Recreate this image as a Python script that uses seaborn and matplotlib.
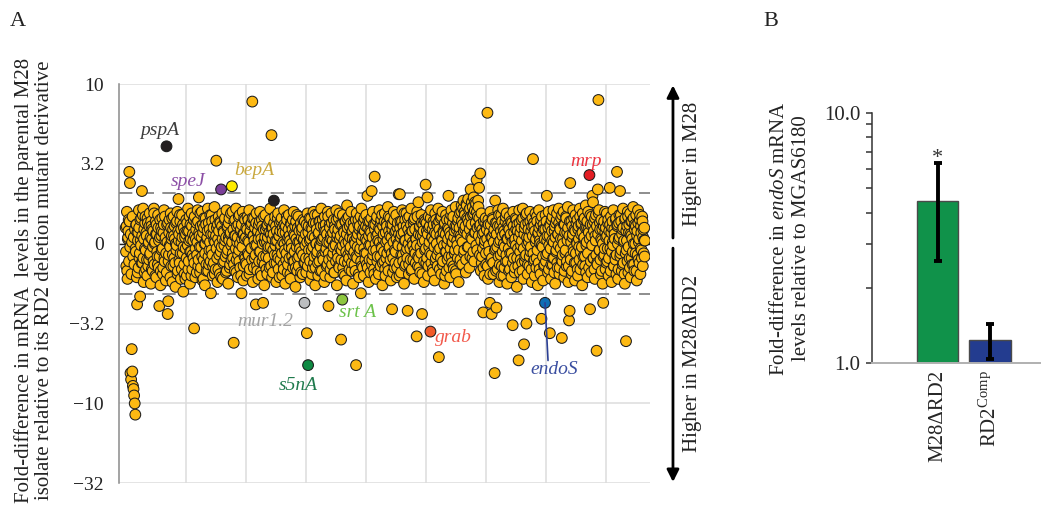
import numpy as np
import pandas as pd
import matplotlib
matplotlib.use("Agg")
import matplotlib.pyplot as plt
from matplotlib.ticker import NullFormatter, FixedLocator
import seaborn as sns

# ---------------- Panel A data: log10 fold-change (M28 / M28dRD2), in hundredths.
# Genes in chromosome order; each block covers 200 genes: "a" lists = even genes, "b" lists = odd genes.
seg0a = [10, -14, 20, -22, 4, 15, 45, 38, -81, -85, -66, -80, -89, -91, -95, -100, -107, -5, 12, -38,
         -18, 7, 21, -9, -33, 2, 16, 33, -12, 22, -24, 9, -3, 17, -16, 5, -20, 13, 0, -10,
         19, -6, -25, 11, 3, -17, 8, 22, -13, 1, 14, -21, 6, -8, 18, -15, -39, 4, -26, 10,
         -4, 16, -19, 7, 21, -11, 2, -23, 61, 12, -44, -36, -7, 15, -2, 19, -14, 5, -24, 9,
         17, -9, 3, -27, 13, -1, 20, -17, 28, 6, -12, 14, -22, 1, 18, -6, -30, 10, -19, 4]
seg0b = [-5, 11, -17, 3, 8, -11, 14, -2, 6, -19, 1, 17, -8, 4, -13, 9, -3, 12, -21, 7,
         2, -15, 10, -6, 15, -1, -12, 5, 18, -9, 3, -18, 13, -4, 7, -10, 16, -14, 1, 11,
         -7, 4, 14, -16, 9, -2, -11, 19, 0, -20, 6, 12, -5, -13, 10, 2, -8, 15, -17, 5,
         8, -3, -15, 12, -9, 17, 4, -6, -18, 1, 13, -11, 7, -1, -21, 10, 3, 16, -7, -14,
         5, 11, -12, 0, -4, 14, -19, 8, 2, -10, 18, -6, 9, -16, 4, 12, -2, -13, 7, -22]
seg1a = [-3, 15, -20, 8, 22, -11, 2, -25, 12, -5, 19, -16, 6, -9, -53, 17, -21, 3, 13, -7,
         21, -14, 29, 5, -18, 11, -2, 20, -23, 7, -10, 16, -26, 0, 12, -17, 4, 22, -8, -13,
         9, 18, -31, -4, 14, -20, 6, -12, 23, 1, -16, 52, 10, -24, 3, 17, -7, -19, 13, 34,
         -2, 19, -22, 8, -11, 15, 2, -18, 21, -6, 11, -25, 4, 16, -13, 7, -1, 36, 20, -9,
         -62, 14, -17, 5, 22, -10, 1, -21, 12, -4, 18, -15, 9, -31, 3, 20, -23, 6, -8, 15]
seg1b = [6, -9, 13, -1, -16, 8, 17, -5, 3, -20, 11, -7, 2, 15, -12, 5, -3, 9, -18, 1,
         14, -10, 7, -2, 19, -15, 4, -8, 12, -22, 10, 0, -6, 16, -13, 3, 8, -17, 13, -4,
         1, -11, 6, 18, -7, -14, 10, 2, -19, 15, 5, -3, -9, 12, -16, 8, 0, 14, -5, -21,
         11, 3, -12, 7, -1, 16, -8, 4, -17, 10, -4, 13, 2, -15, 6, 19, -10, 1, -6, 9,
         -13, 5, 15, -3, -18, 11, 4, -7, 17, -11, 0, 8, -20, 12, -2, 6, -14, 16, 3, -9]
seg2a = [-12, 10, -20, 17, 2, -7, 21, -16, 8, -3, 13, 89, -24, 5, 16, -9, -1, -38, 19, -14,
         7, -22, 12, -5, 20, -18, 3, 15, -11, -37, 9, -26, 1, 18, -8, 11, -19, 4, -2, 14,
         -15, 22, 6, 68, -21, 10, -4, 27, -12, 17, 2, -24, 8, -7, 19, -16, 5, 13, -10, -1,
         16, -20, 7, -13, 21, 0, -25, 11, -6, 15, -18, 4, 18, -9, 2, -22, 12, -3, 9, -15,
         20, -11, 5, -27, 14, -2, -17, 10, 17, -8, 1, -21, 13, -5, 8, -19, 15, 3, -37, -12]
seg2b = [4, -13, 9, -6, 15, 1, -19, 7, 12, -3, -10, 16, 5, -15, 2, 10, -7, 13, -1, -17,
         8, 3, -11, 14, -5, 6, -20, 11, 0, -8, 17, -13, 4, 9, -16, 1, 12, -4, -9, 7,
         15, -2, -14, 10, 3, -18, 6, 13, -7, -1, 11, -12, 2, 16, -9, 5, -21, 8, -3, 14,
         -6, 10, 1, -16, 12, -4, 7, -10, 17, 2, -13, 9, -2, 5, -19, 13, 0, -8, 15, -11,
         6, -5, 11, -15, 3, 18, -9, 1, -14, 8, -3, 12, -18, 4, 10, -7, 2, -12, 14, -1]
seg3a = [6, -18, -56, 19, -76, 11, -9, 2, -23, 16, -4, 9, -15, 20, -12, 4, -26, 13, 0, -7,
         18, -20, 7, -11, 14, -2, 22, -17, 3, -8, 11, -24, 17, -5, 8, -14, 1, 20, -39, -10,
         12, -21, 5, 19, -13, 2, -6, 15, -18, 9, -1, 21, -26, 6, -9, 16, -15, 3, 12, -60,
         -4, -35, 18, -19, 7, -11, 14, 0, -23, 24, 10, -7, 17, -16, 4, -2, 20, -12, 8, -25,
         13, -5, 2, -17, -76, 19, -9, 6, 15, -21, 11, -3, -31, 22, -14, 5, 9, -20, 16, -6]
seg3b = [-9, 12, 1, -14, 7, -4, 16, -11, 3, 10, -19, 5, -2, 13, -8, 18, -15, 0, 9, -5,
         -12, 6, 14, -1, -17, 11, 2, -7, 15, -10, 4, 8, -20, 12, -3, 6, -13, 17, -6, 1,
         10, -16, 3, 13, -8, 7, -2, -18, 11, 0, -11, 15, 4, -6, 9, -14, 19, -3, 5, -10,
         12, -1, -15, 8, 2, -20, 14, -5, 6, 16, -12, 1, -9, 11, -4, 13, -17, 7, 3, -7,
         10, -13, 0, 15, -8, 4, -2, 12, -19, 9, -5, 17, -11, 2, 6, -15, 14, -3, 8, -10]
seg4a = [3, 18, -13, 30, 10, -24, -1, 14, -18, 7, 33, -10, 20, -4, -16, 42, 12, -22, 5, 17,
         -8, 2, -19, 21, 9, -14, 15, -3, -26, 11, 6, -11, 19, -20, 1, 13, -6, 23, -17, 8,
         -2, 16, -23, 4, -41, 12, -9, 20, -15, 7, -5, 18, -21, 10, 0, 31, -12, 31, 14, -18,
         6, 21, -7, 11, -25, 2, 15, -13, 19, -3, -42, 9, -19, 17, 4, -10, 22, -16, 8, -1,
         13, -22, 16, -6, 3, -58, 20, -14, 26, -9, 10, -18, 5, 18, -44, 1, 12, -24, 15, -4]
seg4b = [11, -6, 2, -15, 14, 5, -10, 8, -1, 16, -13, 4, -7, 12, -19, 9, 0, -4, 15, -11,
         6, -17, 10, 1, -8, 13, -2, 18, -12, 3, -5, 14, -16, 7, -9, 11, 2, -14, 17, -3,
         5, -10, 12, -6, 9, -18, 1, 15, -4, -12, 8, 3, -15, 13, -1, 6, -20, 10, 4, -7,
         14, -2, -11, 7, 19, -14, 2, -5, 11, -9, 16, 0, -13, 6, -3, 12, -17, 8, 1, -10,
         15, -4, 9, -12, 3, -1, 17, -8, 6, -15, 11, -2, -6, 13, -19, 5, 8, -11, 2, 14]
seg5a = [37, -12, 8, 29, -20, 17, -2, 11, -55, 21, -7, 4, -16, 14, 2, -23, 19, -9, 6, 12,
         -14, 22, -71, 9, -3, 16, -19, 3, 20, -11, 7, -25, 13, -5, 18, -17, 0, 10, 30, -8,
         15, -21, 5, 21, -12, 1, 17, -16, 8, -4, 23, -19, 11, -1, 14, -24, 6, 19, -10, 3,
         24, -13, 12, 27, -6, 20, 9, -18, 25, 16, -2, 28, 13, -15, 22, 34, 4, 26, -9, 18,
         29, -11, 21, 7, 25, 40, -4, 17, 23, 35, 11, 44, -17, 19, -8, 6, -43, 14, -20, 2]
seg5b = [-3, 13, -9, 6, -14, 10, 1, -6, 16, -12, 4, 9, -18, 12, -2, 7, -11, 15, 0, -7,
         11, -4, 14, -16, 5, -9, 17, 2, -13, 8, -1, 12, -20, 6, -5, 15, -10, 3, 9, -15,
         7, -3, 18, -8, 1, 13, -14, 4, -6, 11, -17, 9, 2, -9, 16, -4, 10, -12, 5, 20,
         14, 1, 22, 8, -4, 18, 11, -10, 24, 6, 15, -2, 21, 9, -8, 17, 12, 3, 23, -5,
         19, 7, 26, 13, -1, 20, 10, 27, 5, 16, -7, 12, 2, -12, 9, -3, -15, 7, 0, 13]
seg6a = [16, -13, 9, 82, -22, 12, -5, -37, 20, -10, -44, 4, 15, -19, 7, -81, 27, -3, -40, 13,
         -16, 21, 1, -24, 11, -7, 18, -14, 5, 22, -20, 8, -2, 14, -11, 19, -25, 3, 10, -17,
         17, -6, 6, -21, 13, -51, 20, -9, 2, -15, 16, 9, -27, 12, -3, -73, 21, -18, 7, -1,
         15, -12, 22, -22, -63, 10, -8, 18, -50, 4, -19, 13, 1, -14, 20, -5, 8, -24, 16, 53,
         -11, 11, -20, 19, 3, -9, 14, -26, 7, 21, -16, 0, 12, -47, 17, -2, -23, 9, -13, -37]
seg6b = [-6, 10, 3, -14, 15, -1, 7, -19, 12, 4, -9, 16, -12, 1, 9, -4, 13, -17, 6, -2,
         11, -8, 18, -13, 2, 8, -20, 14, -5, 10, 0, -15, 6, 17, -7, 3, -11, 12, -3, 9,
         -16, 5, 14, -6, 1, -12, 11, 7, -18, 3, -1, 15, -9, 8, -14, 4, 13, -5, -10, 10,
         2, -17, 16, -3, 6, -11, 12, -7, 19, 0, -13, 9, 4, -8, 14, -2, -16, 11, 5, -6,
         13, -10, 8, 1, -15, 17, -4, 6, -12, 10, 2, -19, 15, -1, 7, -8, 12, -14, 3, 9]
seg7a = [18, -7, 30, 5, -18, 20, -1, -56, 11, -22, 15, 2, -13, 21, -9, 8, -25, 13, -4, 19,
         -15, 6, 22, -19, 10, -3, 16, -59, -11, 3, 20, -21, 12, -6, 17, -14, 7, 23, -24, -48,
         -42, 38, -10, 14, -17, 4, 21, -5, 9, -23, 18, -12, 1, 15, -20, 11, -2, 22, -16, 6,
         13, -26, 19, -8, 3, 16, -14, 24, -1, 10, -21, 20, 7, 43, -41, 12, -18, 17, 30, 26,
         -9, 14, -22, 5, 18, -67, -12, 34, 90, 21, -4, 9, -19, 15, 2, -25, -37, 11, -7, 20]
seg7b = [-11, 14, 2, -6, 10, -16, 5, 12, -3, -13, 8, 17, -9, 1, -18, 11, 4, -5, 15, -12,
         6, -1, 13, -15, 9, 3, -10, 18, -7, 0, 12, -17, 7, -4, 16, -11, 2, 10, -14, 5,
         14, -8, 1, -19, 11, 6, -3, 16, -12, 8, -6, 13, 0, -16, 9, 3, -10, 17, -5, 12,
         -2, 7, -13, 15, 4, -8, 10, -18, 1, 14, -6, 9, -15, 3, 18, -11, 5, -1, 12, -9,
         8, -16, 16, 2, -7, 11, -13, 6, 19, -4, 13, -10, 3, -17, 9, 0, -8, 14, -3, 7]
seg8a = [-16, 4, 19, -11, 13, -20, 8, 35, -3, 17, -24, 10, 1, 21, -14, 6, -8, 15, -19, 45,
         12, -22, 3, 18, 33, -6, 14, -17, 9, 22, -12, 2, -25, 16, -61, -4, 11, 20, -18, 7,
         -9, 19, -21, 5, 14, -13, 23, 0, -17, 12, -6, 18, -23, 8, 21, -10, 3, 15, -19, 11,
         -4, 17, -14, 9, 2, -8]
seg8b = [10, -12, 5, -3, 15, -9, 2, 12, -17, 7, -5, 14, -1, -14, 9, 3, -10, 16, -7, 11,
         0, -16, 13, 4, -8, 18, -4, 6, -13, 10, 1, -19, 15, -6, 8, 2, -11, 17, -2, 12,
         -15, 6, 14, -9, 3, -5, 16, -13, 9, 0, 11, -17, 5, -7, 13, 1, -12, 18, -3, 7,
         -9, 14, 4, -6, 10, 2]
GENES_PER_BLOCK = 200

# highlighted genes (gene index)
hl_names = ["pspA", "speJ", "bepA", "mrp", "mur1.2", "srtA", "s5nA", "grab", "endoS", "other_dark"]
hl_index = [136, 318, 354, 1546, 596, 722, 608, 1016, 1398, 494]
hl_colors = ["#231F20", "#7B3F98", "#FFEC00", "#E31E24", "#BCBEC0", "#8DC63F", "#0E8A43",
             "#F15A29", "#0F6DB4", "#231F20"]
label_texts = ["pspA", "speJ", "bepA", "mrp", "mur1.2", "srt A", "s5nA", "grab", "endoS"]
label_colors = ["#3C3C3C", "#8C4FA6", "#C9A83E", "#EC3440", "#A3A3A3", "#6CC24A", "#1F7A4D",
                "#F2594B", "#3A4EA0"]
label_xy = [(114, 0.709), (208, 0.39), (430, 0.458), (1536, 0.517), (464, -0.485),
            (772, -0.431), (576, -0.886), (1092, -0.589), (1428, -0.788)]

fold_cutoff = 2.07
ytick_pos = [1.0, 0.5, 0.0, -0.5, -1.0, -1.5]
ytick_labels = ["10", "3.2", "0", "\u22123.2", "\u221210", "\u221232"]

# ---------------- Panel B data
strains = ["M28\u0394RD2", "RD2$^{\\mathrm{Comp}}$"]
endoS_fold = [4.45, 1.24]
endoS_low = [2.56, 1.04]
endoS_high = [6.33, 1.44]
bar_colors = ["#10924A", "#233C8F"]

# ---------------- style
sns.set_theme(style="white")
plt.rcParams["font.family"] = ["Liberation Serif", "DejaVu Serif"]
plt.rcParams["mathtext.fontset"] = "custom"
plt.rcParams["mathtext.rm"] = "Liberation Serif"
plt.rcParams["mathtext.it"] = "Liberation Serif:italic"

fig = plt.figure(figsize=(10.41, 5.08), dpi=100)
axA = fig.add_axes([0.1146, 0.0486, 0.5098, 0.786])
axB = fig.add_axes([0.8374, 0.2848, 0.1617, 0.4928])

# ---------------- Panel A
blocks = [(seg0a, seg0b), (seg1a, seg1b), (seg2a, seg2b), (seg3a, seg3b), (seg4a, seg4b),
          (seg5a, seg5b), (seg6a, seg6b), (seg7a, seg7b), (seg8a, seg8b)]
genes, logfc = [], []
for k, (a, b) in enumerate(blocks):
    for i, v in enumerate(a):
        genes.append(k * GENES_PER_BLOCK + 2 * i)
        logfc.append(v / 100.0)
    for i, v in enumerate(b):
        genes.append(k * GENES_PER_BLOCK + 2 * i + 1)
        logfc.append(v / 100.0)
df = pd.DataFrame({"gene": genes, "log_fc": logfc}).sort_values("gene").reset_index(drop=True)
df["group"] = "all"
for n, i in zip(hl_names, hl_index):
    df.loc[df["gene"] == i, "group"] = n
pal = {"all": "#FDB913"}
pal.update(dict(zip(hl_names, hl_colors)))

cut = np.log10(fold_cutoff)
axA.axhline(0, color="#222222", lw=1.0, zorder=1)
for c in (cut, -cut):
    axA.axhline(c, color="#7a7a7a", lw=1.2, ls=(0, (8, 5)), zorder=2)

sns.scatterplot(data=df, x="gene", y="log_fc", hue="group", palette=pal, s=60,
                edgecolor="#1c1c1c", linewidth=0.75, legend=False, ax=axA, zorder=3)

axA.set_xlim(-21.4, 1748)
axA.set_ylim(-1.5, 1.0)
axA.set_xticks(range(200, 1800, 200))
axA.set_xticklabels([])
axA.set_yticks(ytick_pos)
axA.set_yticklabels(ytick_labels, fontsize=14)
axA.tick_params(axis="x", length=0)
axA.tick_params(axis="y", length=4, width=1, color="#cfcfcf", pad=7, labelcolor="#222222")
axA.grid(True, color="#dcdcdc", lw=1.1, zorder=0)
axA.set_axisbelow(True)
for sp in ["top", "right", "bottom"]:
    axA.spines[sp].set_visible(False)
axA.spines["left"].set_color("#8a8a8a")
axA.spines["left"].set_linewidth(1.1)
axA.set_xlabel("")
axA.set_ylabel("Fold-difference in mRNA  levels in the parental M28\n"
               "isolate relative to its RD2 deletion mutant derivative",
               fontsize=15, linespacing=1.1, color="#222222")
axA.yaxis.set_label_coords(-0.123, 0.509)

for t, col, (tx, ty) in zip(label_texts, label_colors, label_xy):
    axA.text(tx, ty, t, color=col, fontsize=14, style="italic", ha="center", va="center", zorder=5)
i_endo = hl_index[hl_names.index("endoS")]
y_endo = float(df.loc[df["gene"] == i_endo, "log_fc"].iloc[0])
axA.plot([i_endo, i_endo + 10], [y_endo, -0.731], color="#2B3F94", lw=1.2, zorder=4)

# side arrows
arrow_kw = dict(arrowstyle="-|>", color="black", lw=2, mutation_scale=18, shrinkA=0, shrinkB=0)
axA.annotate("", xy=(1.0433, 0.9967), xytext=(1.0433, 0.6143), xycoords="axes fraction",
             arrowprops=arrow_kw, annotation_clip=False)
axA.annotate("", xy=(1.0433, 0.0033), xytext=(1.0433, 0.589), xycoords="axes fraction",
             arrowprops=arrow_kw, annotation_clip=False)
axA.text(1.081, 0.80, "Higher in M28", transform=axA.transAxes, rotation=90,
         ha="center", va="center", fontsize=15, color="#222222")
axA.text(1.081, 0.299, "Higher in M28\u0394RD2", transform=axA.transAxes, rotation=90,
         ha="center", va="center", fontsize=15, color="#222222")

# ---------------- Panel B
dfb = pd.DataFrame({"strain": strains, "fold": endoS_fold})
sns.barplot(data=dfb, x="strain", y="fold", hue="strain", palette=bar_colors, legend=False,
            saturation=1, width=0.8, edgecolor="#4a4a4a", linewidth=1.0, ax=axB, zorder=2)
axB.set_yscale("log")
axB.set_ylim(1.0, 10.0)
axB.set_xlim(-1.258, 1.96)
fold = np.array(endoS_fold)
axB.errorbar([0, 1], fold, yerr=[fold - np.array(endoS_low), np.array(endoS_high) - fold],
             fmt="none", ecolor="black", elinewidth=2.8, capsize=3, capthick=2.8, zorder=3)
axB.text(0, 6.6, "*", ha="center", va="center", fontsize=16, color="#333333")
axB.yaxis.set_major_locator(FixedLocator([1, 10]))
axB.set_yticklabels(["1.0", "10.0"], fontsize=15)
axB.yaxis.set_minor_locator(FixedLocator([2, 3, 4, 5, 6, 7, 8, 9]))
axB.yaxis.set_minor_formatter(NullFormatter())
axB.tick_params(axis="y", which="both", direction="out", length=4, width=1.1, color="#333333",
                left=True, pad=4)
axB.tick_params(axis="x", length=0, pad=5)
axB.set_xticks([0, 1])
axB.set_xticklabels(strains, rotation=90, fontsize=15, va="top")
for sp in ["top", "right"]:
    axB.spines[sp].set_visible(False)
axB.spines["left"].set_color("#333333")
axB.spines["left"].set_linewidth(1.1)
axB.spines["bottom"].set_color("#b0b0b0")
axB.spines["bottom"].set_linewidth(1.4)
axB.set_xlabel("")
axB.set_ylabel("Fold-difference in $\\mathit{endoS}$ mRNA\nlevels relative to MGAS6180",
               fontsize=15, linespacing=1.2, color="#222222")
axB.yaxis.set_label_coords(-0.361, 0.5)

fig.text(0.0173, 0.957, "A", fontsize=16, ha="center", va="center", color="#222222")
fig.text(0.7406, 0.957, "B", fontsize=16, ha="center", va="center", color="#222222")

fig.savefig("out.png", dpi=100)
